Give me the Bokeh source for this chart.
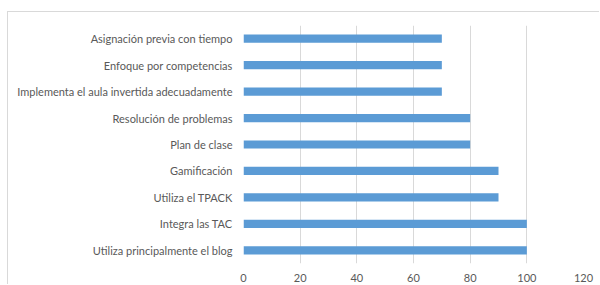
from bokeh.plotting import figure
from bokeh.models import FactorRange, Range1d, FixedTicker
from bokeh.embed import file_html
from bokeh.resources import INLINE

# Data (bottom to top)
categories = [
    "Utiliza principalmente el blog",
    "Integra las TAC",
    "Utiliza el TPACK",
    "Gamificación",
    "Plan de clase",
    "Resolución de problemas",
    "Implementa el aula invertida adecuadamente",
    "Enfoque por competencias",
    "Asignación previa con tiempo",
]
values = [100, 100, 90, 90, 80, 80, 70, 70, 70]
x_ticks = [0, 20, 40, 60, 80, 100, 120]

FONT = "Lato"
TEXT_COLOR = "#595959"
GRID_COLOR = "#d9d9d9"

p = figure(
    y_range=FactorRange(factors=categories, range_padding=0),
    x_range=Range1d(0, 120),
    width=592, height=273,
    output_backend="svg", toolbar_location=None,
    min_border_left=235, min_border_right=17,
    min_border_top=13, min_border_bottom=22,
)
p.styles = {"margin-top": "11px", "margin-left": "7px",
            "border-top": "1px solid #d9d9d9",
            "border-left": "1px solid #d9d9d9"}

p.hbar(y=categories, right=values, left=0, height=0.31, color="#5b9bd5", line_color=None)

p.outline_line_color = None
p.ygrid.grid_line_color = None
p.xgrid.grid_line_color = GRID_COLOR
p.xgrid.grid_line_width = 1
p.xaxis.ticker = FixedTicker(ticks=x_ticks)

for ax in (p.xaxis[0], p.yaxis[0]):
    ax.axis_line_color = None
    ax.major_tick_line_color = None
    ax.minor_tick_line_color = None
    ax.major_label_text_font = FONT
    ax.major_label_text_font_size = "11px"
    ax.major_label_text_color = TEXT_COLOR

p.xaxis.major_label_standoff = 4
p.yaxis.major_label_standoff = 5

open("out.html", "w").write(file_html(p, INLINE))
